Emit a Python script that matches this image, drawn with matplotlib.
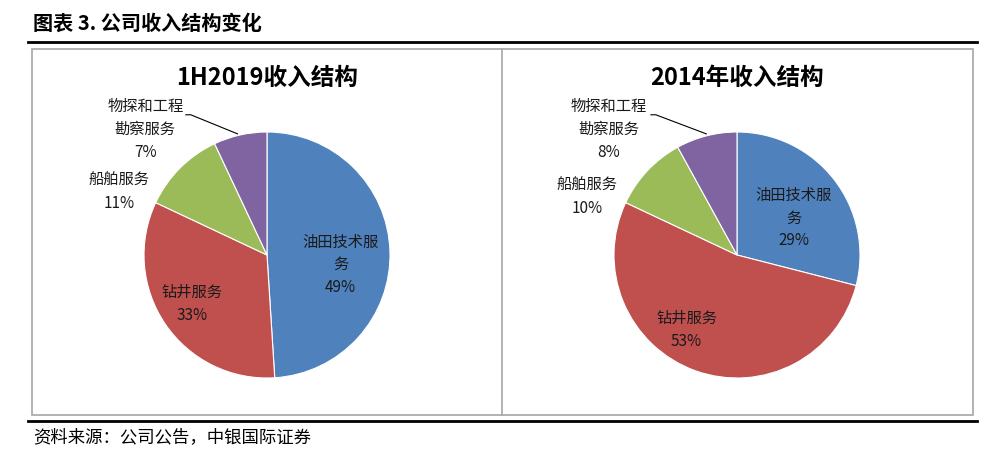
import matplotlib.pyplot as plt
from matplotlib.patches import Rectangle
from matplotlib.lines import Line2D

plt.rcParams['font.family'] = ['Noto Sans CJK SC', 'DejaVu Sans']

# data
categories = ['油田技术服务', '钻井服务', '船舶服务', '物探和工程勘察服务']
share_1h2019 = [49, 33, 11, 7]
share_2014 = [29, 53, 10, 8]
label_1h2019 = ['油田技术服\n务\n49%', '钻井服务\n33%', '船舶服务\n11%', '物探和工程\n勘察服务\n7%']
label_2014 = ['油田技术服\n务\n29%', '钻井服务\n53%', '船舶服务\n10%', '物探和工程\n勘察服务\n8%']
titles = ['1H2019收入结构', '2014年收入结构']
colors = ['#4F81BD', '#C0504D', '#9BBB59', '#8064A2']

W, H = 989, 454
fig = plt.figure(figsize=(W / 100, H / 100), dpi=100)


def fx(px):
    return px / W


def fy(py):
    return 1 - py / H


# header, rules and frame
fig.text(fx(33), fy(23), '图表 3. 公司收入结构变化', fontsize=14.5, fontweight='bold',
         ha='left', va='center', color='black')
fig.add_artist(Line2D([fx(28), fx(977)], [fy(42), fy(42)], color='black', lw=2))
fig.add_artist(Line2D([fx(28), fx(977)], [fy(421), fy(421)], color='black', lw=2))
fig.add_artist(Rectangle((fx(32), fy(415)), fx(973 - 32), (415 - 49) / H,
                         fill=False, edgecolor='#A6A6A6', lw=1.2))
fig.add_artist(Line2D([fx(502), fx(502)], [fy(49), fy(415)], color='#A6A6A6', lw=1.2))
fig.text(fx(33), fy(437), '资料来源：公司公告，中银国际证券', fontsize=12.5,
         ha='left', va='center', color='black')

# label positions in pie radius units (layout only)
label_pos = [
    [(0.60, -0.08), (-0.61, -0.40), (-1.20, 0.51), (-0.99, 1.02)],
    [(0.46, 0.30), (-0.41, -0.61), (-1.22, 0.47), (-1.04, 1.02)],
]
leader = [
    [(-0.66, 1.14), (-0.62, 1.14), (-0.24, 0.985)],
    [(-0.70, 1.14), (-0.66, 1.14), (-0.25, 0.985)],
]

centers = [(267, 255), (737, 255)]
r = 123
series = [share_1h2019, share_2014]
labels = [label_1h2019, label_2014]

for i, (cx, cy) in enumerate(centers):
    ax = fig.add_axes([fx(cx - r), fy(cy + r), 2 * r / W, 2 * r / H])
    ax.pie(series[i], colors=colors, startangle=90, counterclock=False, radius=1,
           wedgeprops=dict(edgecolor='white', linewidth=0.8))
    ax.set_xlim(-1, 1)
    ax.set_ylim(-1, 1)
    ax.axis('off')
    for txt, (x, y) in zip(labels[i], label_pos[i]):
        ax.text(x, y, txt, ha='center', va='center', fontsize=11,
                color='#1a1a1a', linespacing=1.45, clip_on=False)
    xs, ys = zip(*leader[i])
    ax.plot(xs, ys, color='black', lw=0.8, clip_on=False)
    fig.text(fx(cx), fy(78), titles[i], fontsize=17, fontweight='bold',
             ha='center', va='center', color='black')

fig.savefig('out.png', dpi=100)
